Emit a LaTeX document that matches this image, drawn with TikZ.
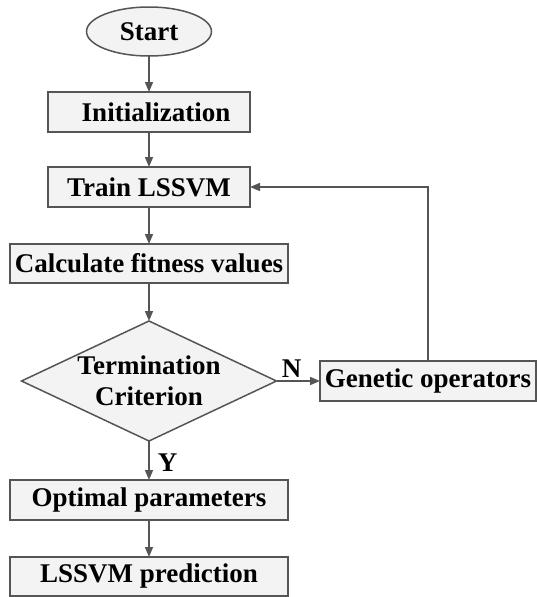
\documentclass[tikz,border=0pt]{standalone}
\usepackage{fontspec}
\setmainfont{Liberation Serif}
\usetikzlibrary{shapes.geometric,arrows.meta}
\definecolor{edge}{HTML}{555555}
\definecolor{boxfill}{HTML}{F3F3F3}
\tikzset{
  base/.style={draw=edge, line width=1.5pt, fill=boxfill, inner sep=0pt, outer sep=0pt,
    font=\fontsize{27}{32}\selectfont\bfseries, text=black},
  procbox/.style={base, rectangle, minimum height=40pt},
  termbox/.style={base, ellipse, minimum width=125pt, minimum height=49pt},
  decbox/.style={base, diamond, aspect=2.125, minimum width=255pt, minimum height=120pt, align=center},
  conn/.style={draw=edge, line width=1.5pt, -{Triangle[length=10pt,width=8pt]}},
  lbl/.style={font=\fontsize{27}{32}\selectfont\bfseries, text=black, inner sep=0pt}
}
\begin{document}
\begin{tikzpicture}[x=1pt,y=-1pt]
\useasboundingbox (0,0) rectangle (537,597);
\node[termbox] (start) at (149,31.5) {Start};
\node[procbox, minimum width=202pt] (init) at (149,112) {\hspace*{14pt}Initialization};
\node[procbox, minimum width=202pt] (train) at (149,187) {Train LSSVM};
\node[procbox, minimum width=278pt, minimum height=39pt] (calc) at (149,263.5) {Calculate fitness values};
\node[decbox] (dec) at (149,381) {\raisebox{-4pt}{\makebox[0pt]{Termination}}\\[-1pt]\raisebox{-4pt}{\makebox[0pt]{Criterion}}};
\node[procbox, minimum width=216pt] (gen) at (428,381) {Genetic operators};
\node[procbox, minimum width=278pt] (opt) at (149,500) {Optimal parameters};
\node[procbox, minimum width=278pt, minimum height=39pt] (pred) at (149,576.5) {LSSVM prediction};

\draw[conn] (start) -- (init);
\draw[conn] (init) -- (train);
\draw[conn] (train) -- (calc);
\draw[conn] (calc) -- (dec);
\draw[conn] (dec) -- node[lbl, anchor=west, xshift=8pt, yshift=-2pt] (ylbl) {Y} (opt);
\draw[conn] (opt) -- (pred);
\draw[conn] (dec.east) -- node[lbl, anchor=south, pos=0.35, yshift=3pt] (nlbl) {N} (gen.west);
\draw[conn] (gen.north) |- (train.east);
\end{tikzpicture}
\end{document}
